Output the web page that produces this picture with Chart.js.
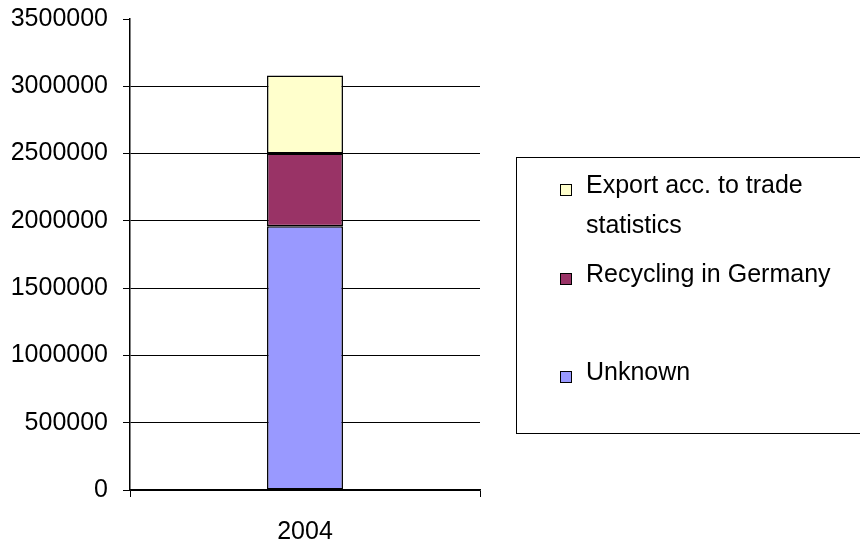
<!DOCTYPE html>
<html>
<head>
<meta charset="utf-8">
<script src="https://cdn.jsdelivr.net/npm/chart.js@4"></script>
<style>
  html, body { margin: 0; padding: 0; background: #fff; }
  #wrap { position: relative; width: 860px; height: 544px; overflow: hidden; }
  #legend {
    position: absolute; left: 516px; top: 157px; width: 380px; height: 277px;
    border: 1px solid #000; box-sizing: border-box;
  }
  .item { position: absolute; left: 0; font: 25px "Liberation Sans", Arial, sans-serif; line-height: 40px; color: #000; }
  .box { position: absolute; width: 12px; height: 12px; border: 1px solid #000; box-sizing: border-box; }
  .txt { position: absolute; left: 69px; width: 270px; white-space: normal; }
</style>
</head>
<body>
<div id="wrap">
  <canvas id="chart" width="860" height="544"></canvas>
  <div id="legend"></div>
</div>
<script>
const years = ['2004'];
const unknown = [1960000];
const recycling = [540000];
const exportTrade = [580000];
const seriesLabels = ['Unknown', 'Recycling in Germany', 'Export acc. to trade statistics'];
const seriesColors = ['#9999FF', '#993366', '#FFFFCC'];
const yTicks = [0, 500000, 1000000, 1500000, 2000000, 2500000, 3000000, 3500000];

const FONT = { family: '"Liberation Sans", Arial, sans-serif', size: 25 };

function createDataset(label, color, data) {
  return {
    label: label,
    backgroundColor: color,
    borderColor: '#000',
    borderWidth: 1.5,
    borderSkipped: false,
    barPercentage: 0.217,
    categoryPercentage: 1.0,
    data: data
  };
}

let datasets = [
  createDataset(seriesLabels[0], seriesColors[0], unknown),
  createDataset(seriesLabels[1], seriesColors[1], recycling),
  createDataset(seriesLabels[2], seriesColors[2], exportTrade)
];

let ctx = document.getElementById('chart').getContext('2d');
new Chart(ctx, {
  type: 'bar',
  data: { labels: years, datasets: datasets },
  options: {
    responsive: false,
    animation: false,
    layout: { padding: { top: 19, right: 380, left: 0, bottom: 0 } },
    scales: {
      x: {
        stacked: true,
        offset: true,
        grid: { offset: true, drawOnChartArea: false, color: '#000', tickLength: 7, lineWidth: 1 },
        border: { color: '#000', width: 1.5 },
        ticks: { color: '#000', font: FONT, padding: 20 },
        afterFit: (scale) => { scale.height = 54; }
      },
      y: {
        stacked: true,
        min: 0,
        max: 3500000,
        afterBuildTicks: (scale) => { scale.ticks = yTicks.map(v => ({ value: v })); },
        grid: {
          color: (c) => (c.tick && c.tick.value === 3500000) ? 'rgba(0,0,0,0)' : '#000',
          tickColor: '#000',
          tickLength: 7,
          lineWidth: 1
        },
        border: { color: '#000', width: 1.5 },
        ticks: { color: '#000', font: FONT, padding: 15, callback: (value) => String(value) },
        afterFit: (scale) => {
          scale.width = 130;
          scale.paddingTop = 0;
          scale.paddingBottom = 0;
        }
      }
    },
    plugins: {
      legend: { display: false },
      tooltip: { enabled: false }
    }
  }
});

// legend, top item first (reverse of stacking order)
let legendTops = [6, 95, 193];
let legend = document.getElementById('legend');
[2, 1, 0].forEach((idx, i) => {
  let item = document.createElement('div');
  item.className = 'item';
  item.style.top = legendTops[i] + 'px';
  item.style.width = '100%';
  let box = document.createElement('div');
  box.className = 'box';
  box.style.left = '43px';
  box.style.top = '20px';
  box.style.background = seriesColors[idx];
  let txt = document.createElement('div');
  txt.className = 'txt';
  txt.innerText = seriesLabels[idx];
  item.appendChild(box);
  item.appendChild(txt);
  legend.appendChild(item);
});
</script>
</body>
</html>
